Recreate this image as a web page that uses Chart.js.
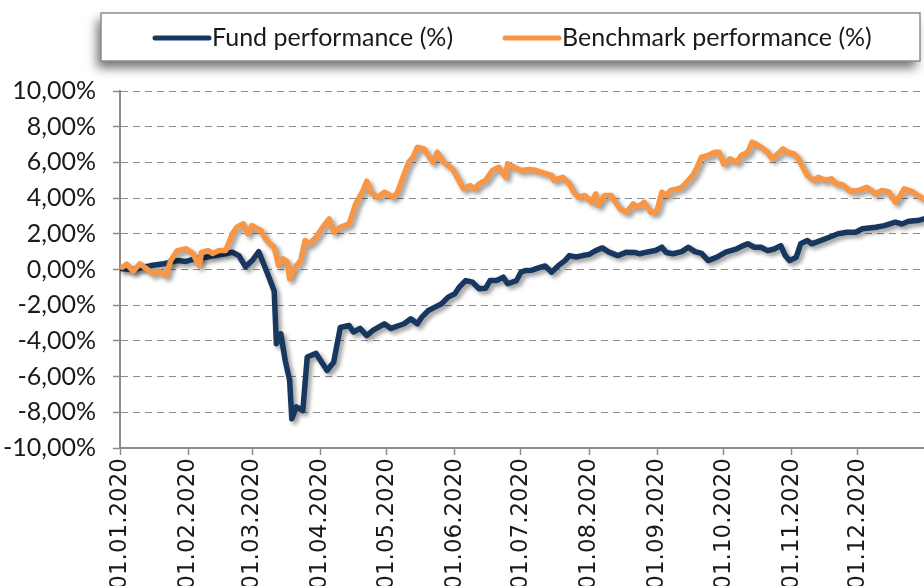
<!DOCTYPE html>
<html>
<head>
<meta charset="utf-8">
<script src="https://cdn.jsdelivr.net/npm/chart.js@4.4.1/dist/chart.umd.min.js"></script>
<style>
html, body { margin: 0; padding: 0; background: #fff; overflow: hidden; }
.chart-wrap { position: relative; width: 924px; height: 586px; }
</style>
</head>
<body>
<div class="chart-wrap">
    <canvas id="grafico-performance"></canvas>
</div>

<script>
// Eixo X: início de cada mês (dia do ano) e rótulos
const monthDays = [0, 31, 60, 91, 121, 152, 182, 213, 244, 274, 305, 335];
const monthLabels = ['01.01.2020', '01.02.2020', '01.03.2020', '01.04.2020', '01.05.2020', '01.06.2020',
    '01.07.2020', '01.08.2020', '01.09.2020', '01.10.2020', '01.11.2020', '01.12.2020'];

// Fund performance (%)
const fundDays = [1, 6, 14, 20, 26, 30, 34, 39, 43, 48, 51, 54, 57, 60, 63, 67, 70, 71, 73, 75, 77, 78, 80, 83, 85,
    89, 94, 97, 100, 104, 106, 109, 112, 115, 120, 123, 129, 132, 135, 137, 140, 143, 146, 149, 152, 154, 157,
    160, 163, 166, 168, 171, 174, 176, 180, 182, 184, 187, 191, 193, 196, 199, 202, 204, 207, 210, 213, 216,
    219, 222, 226, 230, 234, 236, 239, 243, 246, 248, 251, 255, 258, 261, 264, 267, 271, 275, 280, 283, 285,
    288, 291, 294, 297, 300, 302, 304, 307, 309, 312, 314, 318, 322, 326, 330, 334, 337, 343, 347, 352, 355,
    358, 362, 365];
const fundValues = [0.04, 0.0, 0.22, 0.32, 0.5, 0.45, 0.6, 0.69, 0.78, 0.88, 0.97, 0.78, 0.15, 0.5, 1.0, -0.24, -1.2,
    -4.16, -3.6, -5.1, -6.2, -8.36, -7.7, -7.9, -4.9, -4.7, -5.66, -5.2, -3.25, -3.14, -3.5, -3.3, -3.7, -3.4,
    -3.04, -3.3, -3.04, -2.76, -3.04, -2.67, -2.3, -2.11, -1.92, -1.55, -1.36, -0.99, -0.62, -0.71, -1.08,
    -1.05, -0.62, -0.62, -0.43, -0.8, -0.62, -0.15, -0.06, -0.04, 0.13, 0.2, -0.15, 0.22, 0.5, 0.78, 0.7, 0.78,
    0.85, 1.06, 1.21, 0.97, 0.78, 0.97, 0.95, 0.88, 0.97, 1.06, 1.25, 0.95, 0.88, 1.0, 1.25, 1.0, 0.9, 0.5,
    0.69, 0.97, 1.16, 1.34, 1.44, 1.25, 1.25, 1.06, 1.15, 1.34, 0.78, 0.5, 0.69, 1.44, 1.62, 1.44, 1.62, 1.81,
    2.0, 2.09, 2.09, 2.28, 2.37, 2.46, 2.65, 2.55, 2.7, 2.74, 2.84];

// Benchmark performance (%)
const benchDays = [1, 3, 6, 9, 12, 15, 18, 21, 23, 26, 30, 33, 36, 37, 40, 42, 45, 48, 51, 53, 56, 58, 60, 62, 64,
    66, 68, 70, 72, 74, 76, 77, 79, 82, 84, 86, 89, 92, 95, 97, 100, 104, 107, 110, 112, 114, 117, 120, 124,
    126, 129, 131, 133, 135, 138, 140, 142, 144, 147, 151, 153, 156, 159, 161, 163, 166, 169, 172, 175, 176,
    179, 182, 186, 189, 191, 196, 197, 201, 204, 206, 208, 211, 214, 216, 217, 220, 223, 225, 227, 230, 233,
    235, 238, 241, 243, 244, 246, 248, 250, 253, 255, 258, 260, 262, 264, 267, 270, 272, 274, 277, 280, 282,
    285, 287, 289, 291, 294, 296, 298, 301, 303, 306, 308, 310, 312, 315, 317, 320, 323, 325, 328, 331, 334,
    336, 339, 343, 346, 349, 352, 354, 356, 360, 362, 365];
const benchValues = [0.13, 0.3, -0.1, 0.32, 0.04, -0.24, -0.1, -0.34, 0.5, 1.06, 1.16, 0.9, 0.22, 0.97, 1.06, 0.9,
    1.06, 1.06, 2.0, 2.37, 2.56, 2.0, 2.46, 2.3, 2.18, 1.72, 1.44, 1.25, 0.22, 0.6, 0.41, -0.52, 0.04, 0.5,
    1.62, 1.44, 1.81, 2.37, 2.84, 2.09, 2.37, 2.56, 3.68, 4.33, 4.95, 4.3, 4.05, 4.33, 4.05, 4.33, 5.36, 6.0,
    6.29, 6.85, 6.76, 6.39, 6.0, 6.57, 6.0, 5.64, 5.17, 4.52, 4.7, 4.52, 4.8, 5.0, 5.55, 5.73, 5.17, 5.92,
    5.73, 5.55, 5.6, 5.55, 5.45, 5.27, 4.99, 5.17, 4.8, 4.33, 4.05, 4.15, 3.77, 4.24, 3.59, 4.15, 4.15, 3.77,
    3.4, 3.21, 3.68, 3.49, 3.77, 3.21, 3.21, 3.4, 4.33, 4.15, 4.43, 4.52, 4.6, 4.99, 5.27, 5.73, 6.29, 6.39,
    6.57, 6.57, 5.92, 6.2, 6.0, 6.39, 6.57, 7.13, 7.0, 6.85, 6.57, 6.2, 6.4, 6.76, 6.57, 6.48, 6.2, 5.73, 5.27,
    4.99, 5.17, 5.0, 5.08, 4.8, 4.75, 4.43, 4.4, 4.45, 4.61, 4.24, 4.43, 4.35, 3.77, 4.1, 4.52, 4.35, 4.15,
    3.96];

const fundColor = '#17375E';
const benchColor = '#F79646';

// Sombra das linhas (estilo Excel)
const lineShadow = {
    id: 'lineShadow',
    beforeDatasetDraw(chart) {
        const ctx = chart.ctx;
        ctx.save();
        ctx.shadowColor = 'rgba(0,0,0,0.4)';
        ctx.shadowBlur = 4;
        ctx.shadowOffsetX = 3;
        ctx.shadowOffsetY = 3;
    },
    afterDatasetDraw(chart) {
        chart.ctx.restore();
    }
};

// Legenda em caixa com sombra
const legendBox = {
    id: 'legendBox',
    afterDraw(chart) {
        const ctx = chart.ctx;
        ctx.save();
        ctx.shadowColor = 'rgba(0,0,0,0.55)';
        ctx.shadowBlur = 10;
        ctx.shadowOffsetX = -4;
        ctx.shadowOffsetY = 7;
        ctx.fillStyle = '#ffffff';
        ctx.fillRect(101, 13, 819, 48);
        ctx.restore();

        ctx.save();
        ctx.strokeStyle = '#8c8c8c';
        ctx.lineWidth = 1.5;
        ctx.strokeRect(101, 13, 819, 48);

        const items = [
            { ds: chart.data.datasets[0], x: 155 },
            { ds: chart.data.datasets[1], x: 505 }
        ];
        ctx.font = '25px Lato';
        ctx.textBaseline = 'middle';
        items.forEach(function(it) {
            ctx.strokeStyle = it.ds.borderColor;
            ctx.lineWidth = 5;
            ctx.lineCap = 'round';
            ctx.beginPath();
            ctx.moveTo(it.x, 38);
            ctx.lineTo(it.x + 54, 38);
            ctx.stroke();
            ctx.fillStyle = '#1a1a1a';
            ctx.fillText(it.ds.label, it.x + 57, 38);
        });
        ctx.restore();
    }
};

new Chart(document.getElementById('grafico-performance').getContext('2d'), {
    type: 'line',
    data: {
        datasets: [{
            label: 'Fund performance (%)',
            data: fundDays.map((d, i) => ({ x: d, y: fundValues[i] })),
            borderColor: fundColor,
            backgroundColor: fundColor,
            borderWidth: 5.5,
            pointRadius: 0,
            tension: 0,
            borderJoinStyle: 'round',
            borderCapStyle: 'round',
            order: 1
        }, {
            label: 'Benchmark performance (%)',
            data: benchDays.map((d, i) => ({ x: d, y: benchValues[i] })),
            borderColor: benchColor,
            backgroundColor: benchColor,
            borderWidth: 5.5,
            pointRadius: 0,
            tension: 0,
            borderJoinStyle: 'round',
            borderCapStyle: 'round',
            order: 0
        }]
    },
    options: {
        responsive: true,
        maintainAspectRatio: false,
        animation: false,
        layout: {
            padding: { top: 91, left: 0, right: 0, bottom: 0 }
        },
        plugins: {
            legend: { display: false },
            tooltip: { enabled: false }
        },
        scales: {
            x: {
                type: 'linear',
                min: 0,
                max: 365,
                afterBuildTicks: function(scale) {
                    scale.ticks = monthDays.map(v => ({ value: v }));
                },
                afterFit: function(scale) {
                    scale.height = 138;
                },
                ticks: {
                    autoSkip: false,
                    maxRotation: 90,
                    minRotation: 90,
                    padding: 3,
                    color: '#1a1a1a',
                    font: { family: "'DejaVu Sans'", size: 23 },
                    callback: function(value) {
                        return monthLabels[monthDays.indexOf(value)];
                    }
                },
                grid: {
                    drawOnChartArea: false,
                    drawTicks: true,
                    tickLength: 7,
                    tickColor: '#8c8c8c',
                    tickWidth: 1.5
                },
                border: { display: true, color: '#8c8c8c', width: 2 }
            },
            y: {
                min: -10,
                max: 10,
                afterFit: function(scale) {
                    scale.width = 120;
                },
                ticks: {
                    stepSize: 2,
                    padding: 17,
                    color: '#1a1a1a',
                    font: { family: 'Lato', size: 25 },
                    callback: function(value) {
                        return value.toFixed(2).replace('.', ',') + '%';
                    }
                },
                grid: {
                    color: '#8c8c8c',
                    lineWidth: 1,
                    tickLength: 7,
                    tickColor: '#8c8c8c',
                    tickWidth: 1.5,
                    tickBorderDash: []
                },
                border: { display: true, color: '#8c8c8c', width: 2, dash: [7, 5] }
            }
        }
    },
    plugins: [lineShadow, legendBox]
});
</script>
</body>
</html>
